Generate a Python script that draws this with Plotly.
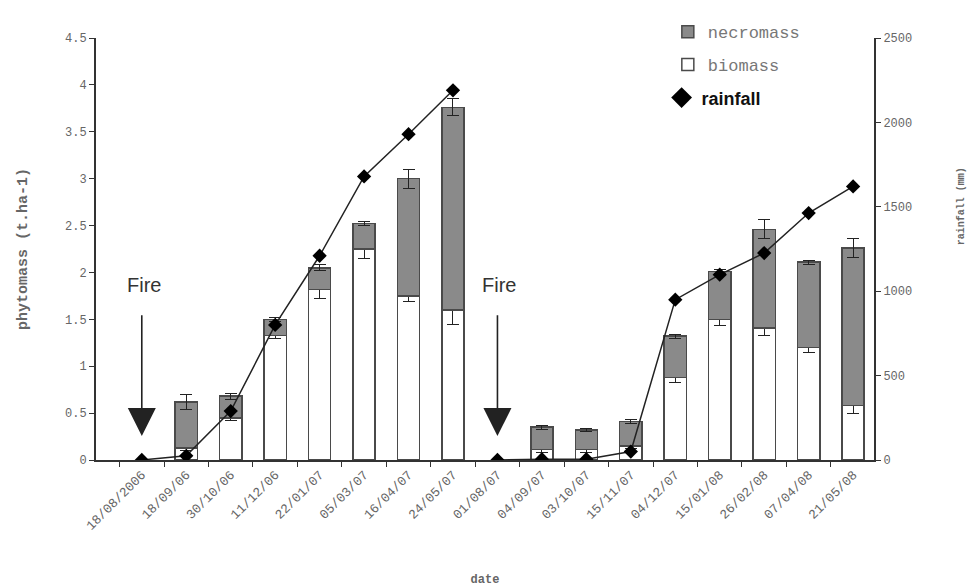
import plotly.graph_objects as go

dates = ["18/08/2006", "18/09/06", "30/10/06", "11/12/06", "22/01/07", "05/03/07",
         "16/04/07", "24/05/07", "01/08/07", "04/09/07", "03/10/07", "15/11/07",
         "04/12/07", "15/01/08", "26/02/08", "07/04/08", "21/05/08"]
biomass = [None, 0.13, 0.45, 1.33, 1.82, 2.25, 1.75, 1.60,
           None, 0.11, 0.11, 0.15, 0.88, 1.50, 1.41, 1.20, 0.58]
biomass_err = [0, 0.03, 0.03, 0.03, 0.10, 0.10, 0.06, 0.15,
               0, 0.03, 0.03, 0.03, 0.05, 0.07, 0.08, 0.05, 0.08]
necromass = [None, 0.49, 0.23, 0.17, 0.23, 0.27, 1.25, 2.16,
             None, 0.24, 0.21, 0.26, 0.44, 0.51, 1.05, 0.91, 1.68]
necromass_err = [0, 0.08, 0.03, 0.02, 0.03, 0.02, 0.10, 0.09,
                 0, 0.02, 0.02, 0.02, 0.02, 0.02, 0.10, 0.02, 0.10]
rain_dates_1 = dates[0:8]
rainfall_1 = [0, 25, 290, 800, 1210, 1680, 1930, 2190]
rain_dates_2 = dates[8:17]
rainfall_2 = [0, 5, 5, 50, 950, 1098, 1226, 1463, 1621]
fire_dates = [dates[0], dates[8]]

MONO = "Liberation Mono, DejaVu Sans Mono"
fig = go.Figure()
err_style = dict(type="data", color="#222", thickness=1, width=6)
fig.add_trace(go.Bar(x=dates, y=biomass, name="biomass", legend="legend2",
                     marker=dict(color="white", line=dict(color="#4a4a4a", width=1.5)),
                     error_y=dict(array=biomass_err, **err_style)))
fig.add_trace(go.Bar(x=dates, y=necromass, name="necromass", legend="legend",
                     marker=dict(color="#8a8a8a", line=dict(color="#4a4a4a", width=1.5)),
                     error_y=dict(array=necromass_err, **err_style)))
line_style = dict(color="#222", width=1.5)
mk = dict(symbol="diamond", size=11, color="black")
fig.add_trace(go.Scatter(x=rain_dates_1, y=rainfall_1, yaxis="y2", mode="lines+markers",
                         line=line_style, marker=mk, name="rainfall", showlegend=False))
fig.add_trace(go.Scatter(x=rain_dates_2, y=rainfall_2, yaxis="y2", mode="lines+markers",
                         line=line_style, marker=mk, showlegend=False))
# legend-only entry for rainfall (big diamond, no line)
fig.add_trace(go.Scatter(x=[None], y=[None], yaxis="y2", mode="markers", name="rainfall",
                         legend="legend3", marker=dict(symbol="diamond", size=26, color="black")))

for fd in fire_dates:
    fig.add_annotation(x=fd, y=0.256, xref="x", yref="y", text="", showarrow=True,
                       axref="x", ayref="y", ax=fd, ay=1.56,
                       arrowhead=2, arrowsize=3.5, arrowwidth=1.6, arrowcolor="#222", standoff=0)
    fig.add_annotation(x=fd, y=1.87, xref="x", yref="y", text="Fire", showarrow=False,
                       xshift=2,
                       font=dict(family="Liberation Sans Narrow, Liberation Sans, Arial", size=20, color="#333"))

fig.add_annotation(x=1.123, y=0.602, xref="paper", yref="paper", text="<b>rainfall (mm)</b>",
                   textangle=-90, showarrow=False,
                   font=dict(family=MONO, size=10, color="#666"))

tickfont = dict(family=MONO, size=13, color="#666")
leg_common = dict(xanchor="left", yanchor="middle", bgcolor="rgba(0,0,0,0)",
                  itemwidth=30, tracegroupgap=0)
fig.update_layout(
    width=976, height=586,
    margin=dict(l=88, r=110, t=30, b=134, autoexpand=False),
    paper_bgcolor="white", plot_bgcolor="white",
    barmode="stack", bargap=0.5,
    showlegend=True,
    legend=dict(x=0.735, y=1.014, font=dict(family=MONO, size=17, color="#777"), **leg_common),
    legend2=dict(x=0.735, y=0.936, font=dict(family=MONO, size=17, color="#777"), **leg_common),
    legend3=dict(x=0.727, y=0.858, font=dict(family="Liberation Sans, Arial", size=18, color="#111",
                                             weight="bold"), **leg_common),
    xaxis=dict(type="category", categoryorder="array", categoryarray=dates,
               range=[-1.03, 16.47], tickangle=-45, tickson="boundaries",
               ticks="outside", ticklen=5, tickcolor="#333",
               showline=True, linecolor="#333", linewidth=2, showgrid=False,
               tickfont=tickfont,
               title=dict(text="<b>date</b>", font=dict(family=MONO, size=12, color="#666"),
                          standoff=42)),
    yaxis=dict(range=[0, 4.5], dtick=0.5, ticks="outside", ticklen=5, tickcolor="#333",
               showline=True, linecolor="#333", linewidth=2, showgrid=False, zeroline=False,
               tickfont=dict(family=MONO, size=12, color="#666"),
               title=dict(text="<b>phytomass (t.ha-1)</b>",
                          font=dict(family=MONO, size=15, color="#666"),
                          standoff=34)),
    yaxis2=dict(range=[0, 2500], dtick=500, overlaying="y", side="right", anchor="x",
                ticks="outside", ticklen=5, tickcolor="#333",
                showline=True, linecolor="#333", linewidth=2, showgrid=False, zeroline=False,
                tickfont=dict(family=MONO, size=12, color="#666")),
)

fig.write_html("out.html")
